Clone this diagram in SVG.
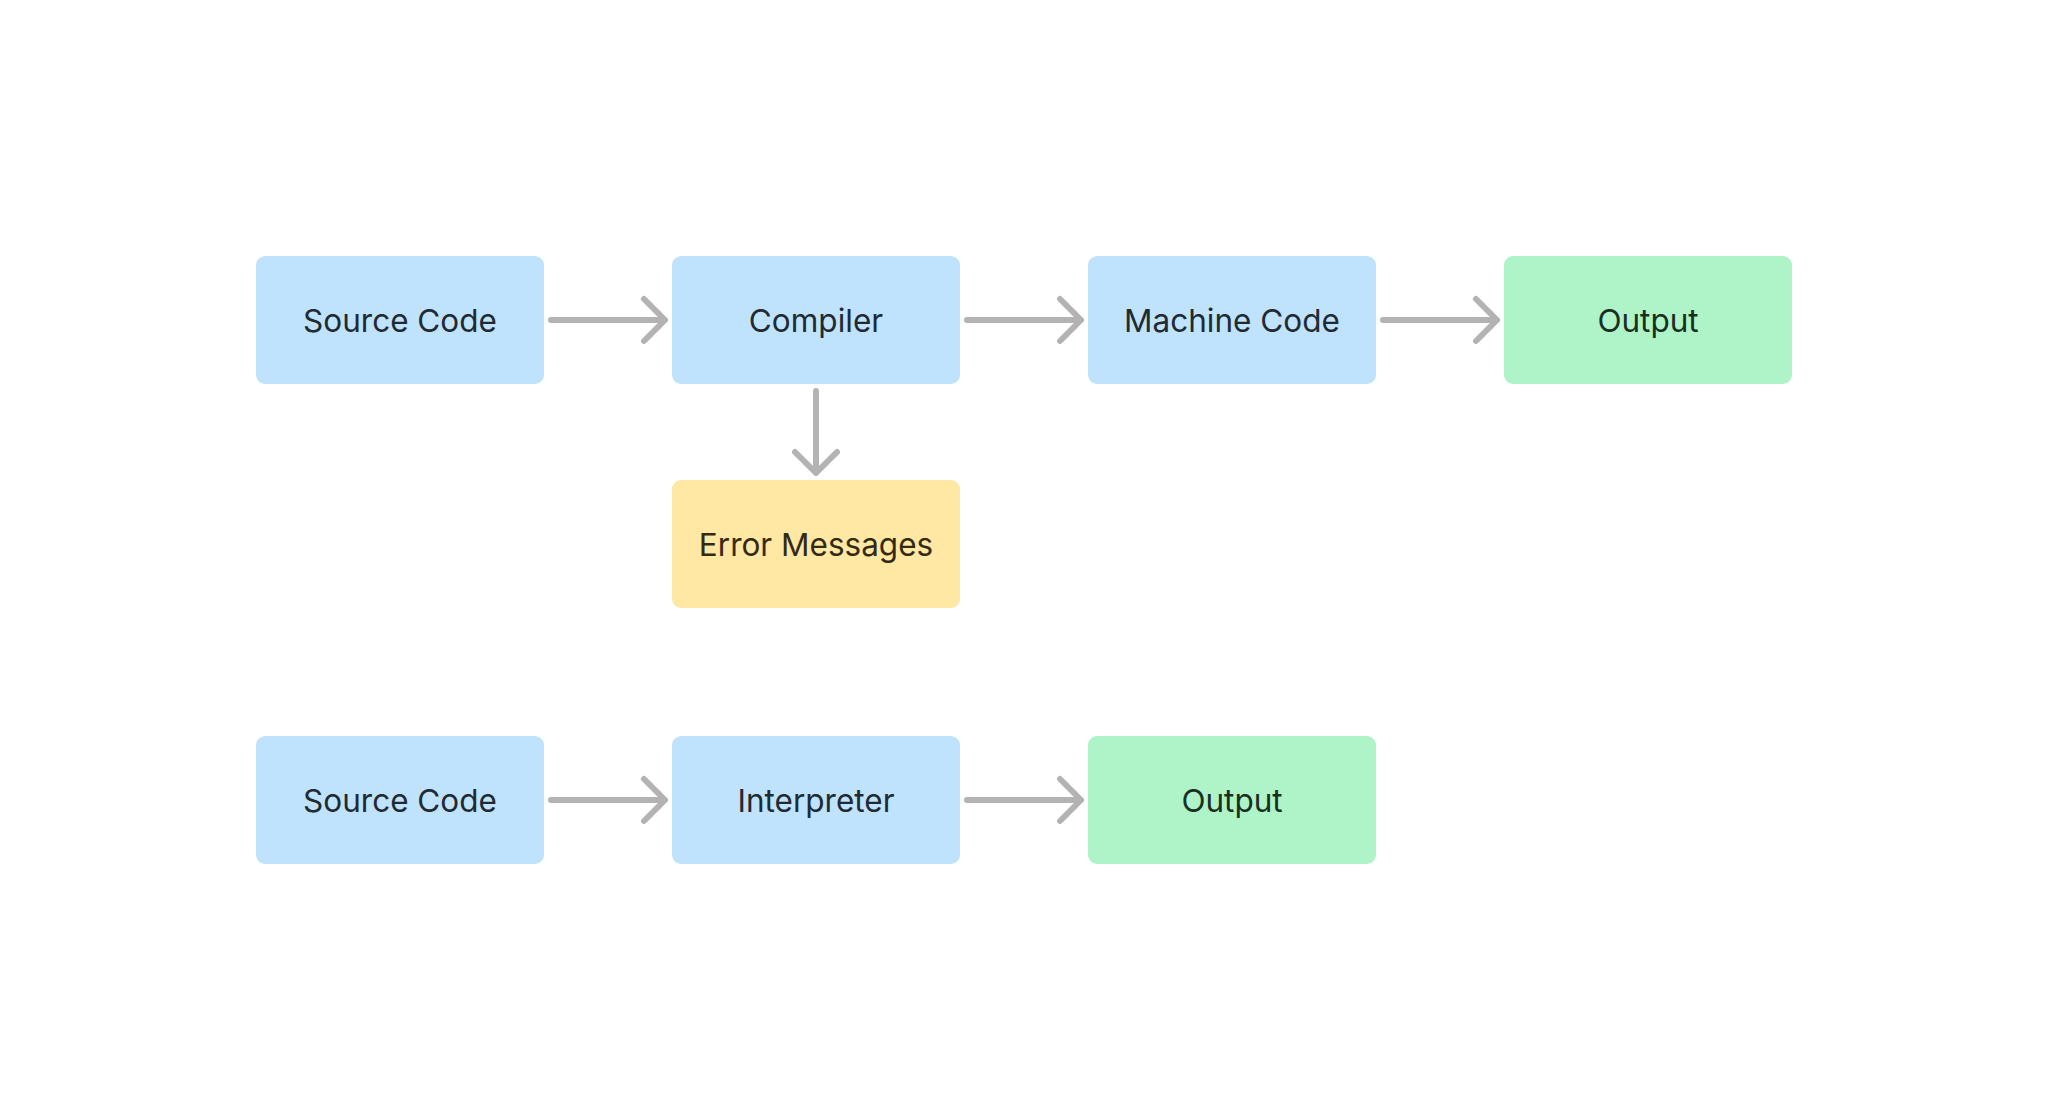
<svg xmlns="http://www.w3.org/2000/svg" width="2048" height="1120" viewBox="0 0 2048 1120">
<style>
.box{stroke:none}
.blue{fill:#BFE3FC}
.green{fill:#AEF4C8}
.yellow{fill:#FFE8A3}
.lbl{font-family:Inter,"Liberation Sans",sans-serif;font-size:31.5px;font-weight:400;text-anchor:middle}
.tb{fill:#1F2A33}
.tg{fill:#1B2E22}
.ty{fill:#332A14}
.conn path{fill:none;stroke:#B3B3B3;stroke-width:6;stroke-linecap:round;stroke-linejoin:round}
</style>
<rect width="2048" height="1120" fill="#FFFFFF"/>
<g id="src1"><rect class="box blue" x="256" y="256" width="288" height="128" rx="9"/><text class="lbl tb" x="400" y="331.5">Source Code</text></g>
<g id="compiler"><rect class="box blue" x="672" y="256" width="288" height="128" rx="9"/><text class="lbl tb" x="816" y="331.5">Compiler</text></g>
<g id="machine"><rect class="box blue" x="1088" y="256" width="288" height="128" rx="9"/><text class="lbl tb" x="1232" y="331.5">Machine Code</text></g>
<g id="out1"><rect class="box green" x="1504" y="256" width="288" height="128" rx="9"/><text class="lbl tg" x="1648" y="331.5">Output</text></g>
<g id="errors"><rect class="box yellow" x="672" y="480" width="288" height="128" rx="9"/><text class="lbl ty" x="816" y="555.5">Error Messages</text></g>
<g id="src2"><rect class="box blue" x="256" y="736" width="288" height="128" rx="9"/><text class="lbl tb" x="400" y="811.5">Source Code</text></g>
<g id="interp"><rect class="box blue" x="672" y="736" width="288" height="128" rx="9"/><text class="lbl tb" x="816" y="811.5">Interpreter</text></g>
<g id="out2"><rect class="box green" x="1088" y="736" width="288" height="128" rx="9"/><text class="lbl tg" x="1232" y="811.5">Output</text></g>
<g id="connectors" class="conn">
<path d="M551 320H665M644 299L665 320L644 341"/>
<path d="M967 320H1081M1060 299L1081 320L1060 341"/>
<path d="M1383 320H1497M1476 299L1497 320L1476 341"/>
<path d="M816 391V473M795 452L816 473L837 452"/>
<path d="M551 800H665M644 779L665 800L644 821"/>
<path d="M967 800H1081M1060 779L1081 800L1060 821"/>
</g>
</svg>
